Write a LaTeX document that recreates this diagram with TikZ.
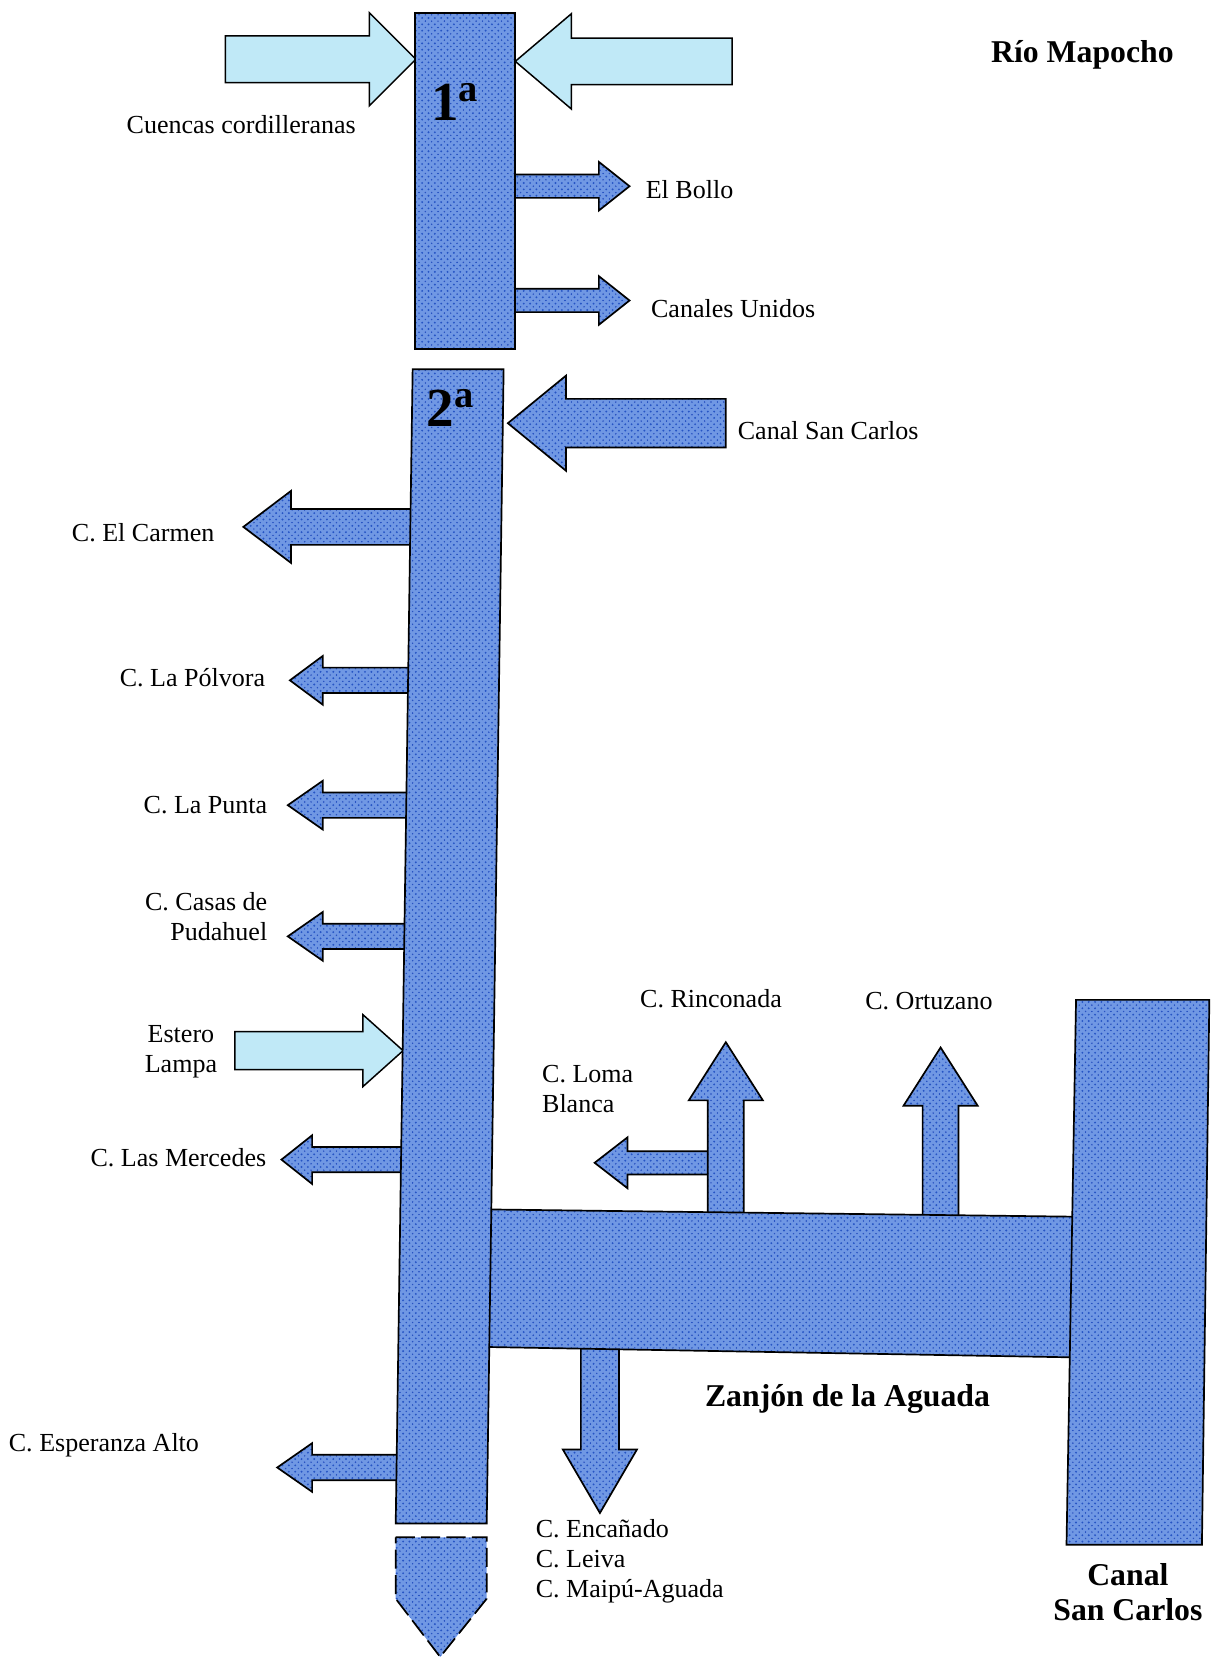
\documentclass[tikz,border=0pt]{standalone}
\usepackage{fontspec}
\setmainfont{Liberation Serif}
\usetikzlibrary{patterns}

\definecolor{wbase}{RGB}{112,152,228}
\definecolor{wdot}{RGB}{38,84,196}
\definecolor{wlight}{RGB}{196,216,250}
\definecolor{icefill}{RGB}{192,233,247}

% block arrow, horizontal: base x, head-base x, tip x, centre y, shaft half-width, head half-width
\newcommand\harrowpath[6]{%
  ({#1},{#4-#5}) -- ({#2},{#4-#5}) -- ({#2},{#4-#6}) -- ({#3},{#4}) --
  ({#2},{#4+#6}) -- ({#2},{#4+#5}) -- ({#1},{#4+#5}) -- cycle}
% block arrow, vertical: base y, head-base y, tip y, centre x, shaft half-width, head half-width
\newcommand\varrowpath[6]{%
  ({#4-#5},{#1}) -- ({#4-#5},{#2}) -- ({#4-#6},{#2}) -- ({#4},{#3}) --
  ({#4+#6},{#2}) -- ({#4+#5},{#2}) -- ({#4+#5},{#1}) -- cycle}

\begin{document}
\begin{tikzpicture}[x=0.5pt,y=-0.5pt,
  water/.style={preaction={fill=wbase},
    preaction={pattern=dots,pattern color=wlight},
    pattern=crosshatch dots,pattern color=wdot,
    draw=black,line width=0.8pt,line join=miter},
  ice/.style={fill=icefill,draw=black,line width=0.7pt,line join=miter},
  lbl/.style={font=\fontsize{12.3}{14.2}\selectfont,inner sep=0pt},
  blbl/.style={font=\fontsize{15}{16.5}\selectfont\bfseries,inner sep=0pt},
  sect/.style={font=\fontsize{26}{26}\selectfont\bfseries,inner sep=0pt}]

\useasboundingbox (0,0) rectangle (1145,1568);

% ---- first section of the river ----
\draw[ice] \harrowpath{213}{349}{393}{56}{22}{44};
\draw[ice] \harrowpath{692}{540}{487}{58}{22}{45};
\draw[water] \harrowpath{480}{566}{595}{176}{11}{23};
\draw[water] \harrowpath{480}{566}{595}{284}{11}{23};
\draw[water] (392,12) rectangle (487,330);
\node[sect] (s1) at (430,96) {1\textsuperscript{a}};

% ---- second section: inflows and offtakes ----
\draw[water] \harrowpath{686}{535}{480}{400}{23}{45};
\draw[water] \harrowpath{395}{275}{230}{498}{17}{34};
\draw[water] \harrowpath{392}{305}{274}{643}{12}{23};
\draw[water] \harrowpath{390}{305}{272}{761}{12}{23};
\draw[water] \harrowpath{388}{305}{272}{885}{12}{23};
\draw[ice]   \harrowpath{222}{343}{381}{993}{18}{34};
\draw[water] \harrowpath{386}{295}{266}{1096}{12}{23};
\draw[water] \harrowpath{380}{295}{262}{1387}{12}{23};

% ---- Zanjon de la Aguada and its offtakes ----
\draw[water] \harrowpath{675}{593}{562}{1099}{11}{24};
\draw[water] \varrowpath{1150}{1040}{985}{686}{17}{35};
\draw[water] \varrowpath{1155}{1045}{990}{889}{17}{35};
\draw[water] \varrowpath{1268}{1370}{1430}{567}{18}{35};
\draw[water] (455,1143) -- (1020,1150) -- (1020,1283) -- (455,1273) -- cycle;

% ---- main bodies ----
\draw[water] (390,349) -- (476,349) -- (460,1440) -- (374,1440) -- cycle;
\node[sect] (s2) at (426,386) {2\textsuperscript{a}};
\draw[water] (1017,945) -- (1143,945) -- (1136,1460) -- (1008,1460) -- cycle;
\draw[water,dashed,dash pattern=on 9pt off 3pt]
  (374,1453) -- (460,1453) -- (460,1511) -- (416,1566) -- (374,1511) -- cycle;

% ---- labels ----
\node[blbl] (mapocho) at (1023,52) {Río Mapocho};
\node[lbl] (cuencas) at (228,118) {Cuencas cordilleranas};
\node[lbl,anchor=west] (bollo) at (610,179) {El Bollo};
\node[lbl,anchor=west] (unidos) at (615,292) {Canales Unidos};
\node[lbl,anchor=west] (sancarlos) at (697,407) {Canal San Carlos};
\node[lbl,anchor=east] (carmen) at (203,503) {C. El Carmen};
\node[lbl,anchor=east] (polvora) at (251,640) {C. La Pólvora};
\node[lbl,anchor=east] (punta) at (253,761) {C. La Punta};
\node[lbl,anchor=east,align=right] (casas) at (253,866) {C. Casas de\\Pudahuel};
\node[lbl,align=center] (lampa) at (171,994) {Estero\\Lampa};
\node[lbl,anchor=east] (mercedes) at (252,1094) {C. Las Mercedes};
\node[lbl,anchor=west] (esperanza) at (8,1366) {C. Esperanza Alto};
\node[lbl] (rinconada) at (672,944) {C. Rinconada};
\node[lbl] (ortuzano) at (878,946) {C. Ortuzano};
\node[lbl,anchor=west,align=left] (loma) at (512,1029) {C. Loma\\Blanca};
\node[blbl] (zanjon) at (801,1322) {Zanjón de la Aguada};
\node[lbl,anchor=west,align=left] (encanado) at (506,1476) {C. Encañado\\C. Leiva\\C. Maipú-Aguada};
\node[blbl,align=center] (canalsc) at (1066,1505) {Canal\\San Carlos};
\end{tikzpicture}
\end{document}
